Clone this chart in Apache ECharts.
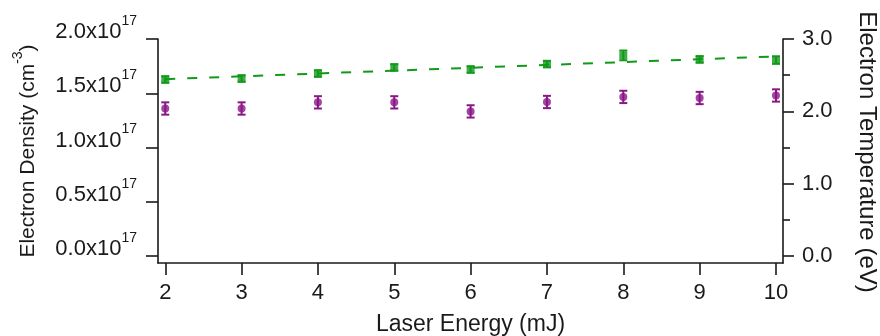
<!DOCTYPE html>
<html>
<head>
<meta charset="utf-8">
<script src="https://cdn.jsdelivr.net/npm/echarts@6/dist/echarts.min.js"></script>
<style>
  html, body { margin: 0; padding: 0; background: #fff; }
  #chart { width: 880px; height: 336px; }
</style>
</head>
<body>
<div id="chart"></div>
<script>
// Laser energy (mJ)
const energy = [2, 3, 4, 5, 6, 7, 8, 9, 10];
// Electron density, in units of 1e17 cm^-3
const density = [1.627, 1.636, 1.682, 1.738, 1.719, 1.769, 1.849, 1.812, 1.806];
const densityErr = [0.03, 0.03, 0.03, 0.03, 0.03, 0.03, 0.045, 0.03, 0.035];
// Electron temperature (eV)
const temperature = [2.04, 2.04, 2.125, 2.125, 2.0, 2.13, 2.2, 2.185, 2.22];
const temperatureErr = [0.085, 0.085, 0.085, 0.085, 0.085, 0.085, 0.085, 0.085, 0.085];
// Linear fit of the density
const fitEnergy = [2, 10];
const fitDensity = [1.63, 1.84];
// Tick positions and labels
const energyTicks = [2, 3, 4, 5, 6, 7, 8, 9, 10];
const densityTicks = [0, 0.5, 1.0, 1.5, 2.0];
const densityTickLabels = ['0.0', '0.5', '1.0', '1.5', '2.0'];
const temperatureTicks = [0, 1, 2, 3];
const temperatureTickLabels = ['0.0', '1.0', '2.0', '3.0'];
const temperatureMinorTicks = [0.5, 1.5, 2.5];

const GREEN = '#12991a';
const PURPLE = '#8a1787';
const INK = '#1a1a1a';
const FONT = '"Liberation Sans", Arial, sans-serif';

const chart = echarts.init(document.getElementById('chart'), null, { renderer: 'canvas' });

const axisLineStyle = { color: INK, width: 1.6 };

// vertical error bar with caps, drawn in data coordinates
function errorBars(color) {
  return function (params, api) {
    const x = api.value(0), y = api.value(1), e = api.value(2);
    const top = api.coord([x, y + e]);
    const bot = api.coord([x, y - e]);
    const half = 4;
    const style = { stroke: color, lineWidth: 2 };
    return {
      type: 'group',
      children: [
        { type: 'line', shape: { x1: top[0], y1: top[1], x2: bot[0], y2: bot[1] }, style },
        { type: 'line', shape: { x1: top[0] - half, y1: top[1], x2: top[0] + half, y2: top[1] }, style },
        { type: 'line', shape: { x1: bot[0] - half, y1: bot[1], x2: bot[0] + half, y2: bot[1] }, style }
      ]
    };
  };
}

const densityData = energy.map((x, i) => [x, density[i]]);
const densityErrData = energy.map((x, i) => [x, density[i], densityErr[i]]);
const tempData = energy.map((x, i) => [x, temperature[i]]);
const tempErrData = energy.map((x, i) => [x, temperature[i], temperatureErr[i]]);
const fitData = fitEnergy.map((x, i) => [x, fitDensity[i]]);

const option = {
  animation: false,
  backgroundColor: '#ffffff',
  textStyle: { fontFamily: FONT, color: INK },
  grid: { left: 158, right: 97, top: 39, bottom: 73, containLabel: false, outerBoundsMode: 'none' },
  graphic: [
    {
      // title of the temperature axis, read top to bottom
      type: 'text',
      x: 867,
      y: 152,
      rotation: -Math.PI / 2,
      style: {
        text: 'Electron Temperature (eV)',
        fontSize: 24,
        fontFamily: FONT,
        fill: INK,
        align: 'center',
        verticalAlign: 'middle'
      }
    }
  ],
  xAxis: {
    type: 'value',
    min: 1.905,
    max: 10.092,
    name: 'Laser Energy (mJ)',
    nameLocation: 'middle',
    nameGap: 50,
    nameTextStyle: { fontSize: 23, color: INK, fontFamily: FONT },
    axisLine: { show: true, onZero: false, lineStyle: axisLineStyle },
    axisTick: { show: true, inside: false, length: 12, lineStyle: axisLineStyle, customValues: energyTicks },
    axisLabel: { show: true, margin: 19, fontSize: 22, color: INK, fontFamily: FONT, customValues: energyTicks },
    splitLine: { show: false }
  },
  yAxis: [
    {
      type: 'value',
      position: 'left',
      min: -0.063,
      max: 2.0,
      name: '{b|Electron Density (cm}{s|-3}{b|)}',
      nameLocation: 'middle',
      nameRotate: 90,
      nameGap: 112,
      nameTextStyle: {
        fontSize: 21, color: INK, fontFamily: FONT,
        rich: {
          b: { fontSize: 21, color: INK, fontFamily: FONT, lineHeight: 21, padding: [0, 0, 6, 0], verticalAlign: 'bottom' },
          s: { fontSize: 14, color: INK, fontFamily: FONT, lineHeight: 14, padding: [0, 0, 19, 0], verticalAlign: 'bottom' }
        }
      },
      axisLine: { show: true, onZero: false, lineStyle: axisLineStyle },
      axisTick: { show: true, inside: false, length: 12, lineStyle: axisLineStyle, customValues: densityTicks },
      axisLabel: {
        show: true,
        margin: 21,
        customValues: densityTicks,
        formatter: function (v) {
          const i = densityTicks.findIndex(t => Math.abs(t - v) < 1e-6);
          const txt = i >= 0 ? densityTickLabels[i] : v.toFixed(1);
          return '{b|' + txt + 'x10}{s|17}';
        },
        rich: {
          b: { fontSize: 22, color: INK, fontFamily: FONT, lineHeight: 22, padding: [0, 0, 7, 0], verticalAlign: 'bottom' },
          s: { fontSize: 14, color: INK, fontFamily: FONT, lineHeight: 14, padding: [0, 0, 22, 0], verticalAlign: 'bottom' }
        }
      },
      splitLine: { show: false }
    },
    {
      type: 'value',
      position: 'right',
      min: -0.094,
      max: 3.0,
      axisLine: { show: true, onZero: false, lineStyle: axisLineStyle },
      axisTick: { show: true, inside: false, length: 11, lineStyle: axisLineStyle, customValues: temperatureTicks },
      axisLabel: {
        show: true,
        margin: 19,
        fontSize: 22,
        color: INK,
        fontFamily: FONT,
        customValues: temperatureTicks,
        formatter: function (v) {
          const i = temperatureTicks.findIndex(t => Math.abs(t - v) < 1e-6);
          return i >= 0 ? temperatureTickLabels[i] : v.toFixed(1);
        }
      },
      splitLine: { show: false }
    },
    {
      // minor ticks of the temperature axis
      type: 'value',
      position: 'right',
      min: -0.094,
      max: 3.0,
      axisLine: { show: false },
      axisTick: { show: true, inside: false, length: 7, lineStyle: axisLineStyle, customValues: temperatureMinorTicks },
      axisLabel: { show: false },
      splitLine: { show: false }
    }
  ],
  series: [
    {
      name: 'Density fit',
      type: 'line',
      yAxisIndex: 0,
      data: fitData,
      showSymbol: false,
      symbol: 'none',
      lineStyle: { color: GREEN, width: 2, type: [10, 12] },
      z: 2
    },
    {
      name: 'Density error',
      type: 'custom',
      yAxisIndex: 0,
      data: densityErrData,
      renderItem: errorBars(GREEN),
      clip: false,
      z: 3
    },
    {
      name: 'Electron density',
      type: 'scatter',
      yAxisIndex: 0,
      data: densityData,
      symbol: 'rect',
      symbolSize: 8,
      itemStyle: { color: GREEN },
      z: 4
    },
    {
      name: 'Temperature error',
      type: 'custom',
      yAxisIndex: 1,
      data: tempErrData,
      renderItem: errorBars(PURPLE),
      clip: false,
      z: 3
    },
    {
      name: 'Electron temperature',
      type: 'scatter',
      yAxisIndex: 1,
      data: tempData,
      symbol: 'circle',
      symbolSize: 8,
      itemStyle: { color: PURPLE },
      z: 4
    }
  ]
};

chart.setOption(option);
</script>
</body>
</html>
